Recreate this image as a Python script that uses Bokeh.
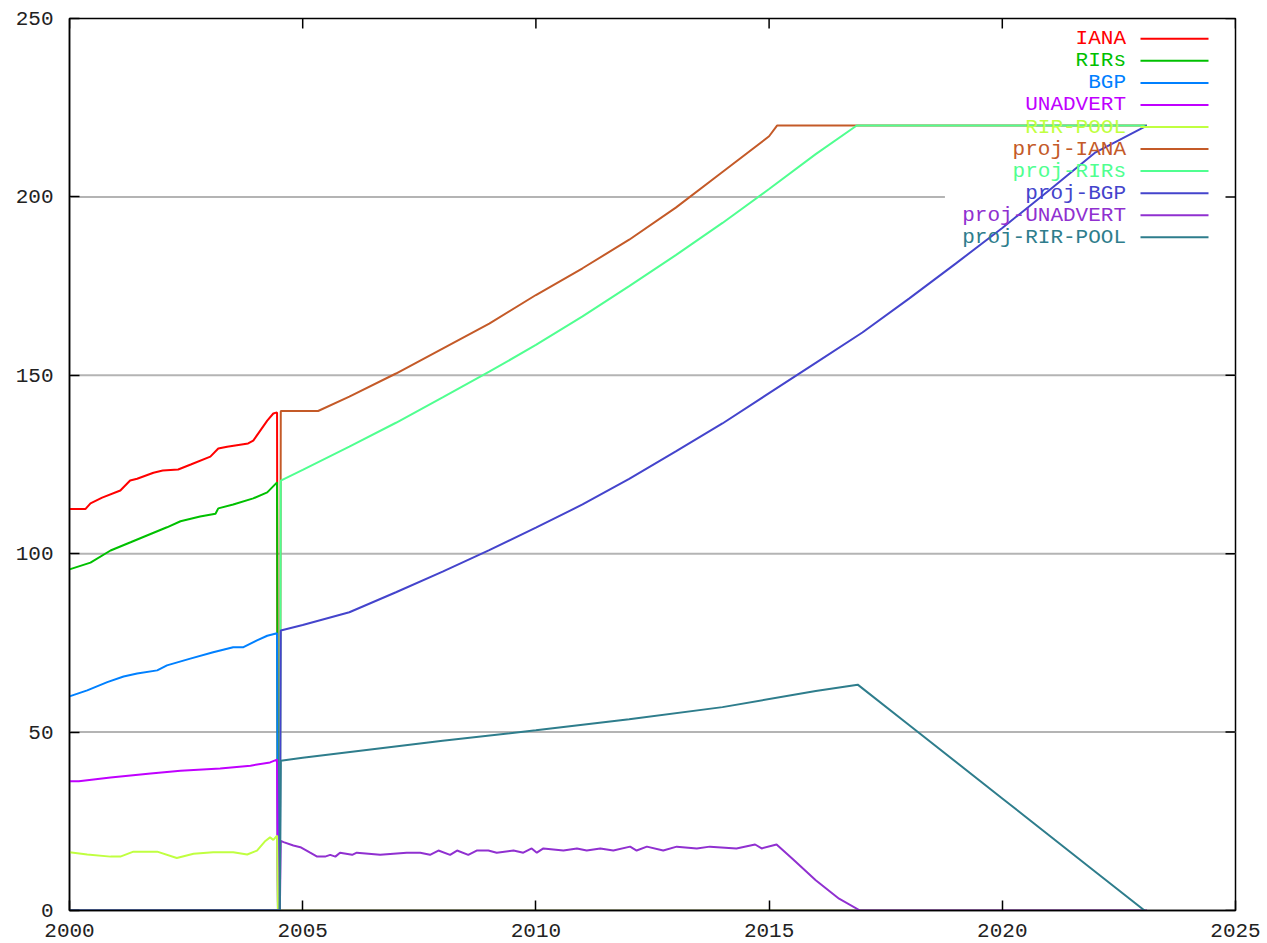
from bokeh.plotting import figure
from bokeh.models import Range1d, FixedTicker, ColumnDataSource
from bokeh.core.properties import value
from bokeh.embed import file_html
from bokeh.resources import INLINE

# ---------------- data ----------------
END = 2023.1
T_DROP = 2004.47
T_RISE = 2004.51

iana_x = [2000.0, 2000.34, 2000.45, 2000.7, 2001.09, 2001.3, 2001.45, 2001.8, 2002.0, 2002.33, 2002.6,
          2003.02, 2003.19, 2003.38, 2003.83, 2003.94, 2004.24, 2004.37, 2004.45]
iana_y = [112.5, 112.5, 114.1, 115.7, 117.7, 120.5, 121.0, 122.7, 123.3, 123.6, 125.0,
          127.2, 129.5, 130.0, 130.9, 131.7, 137.3, 139.3, 139.6]

rirs_x = [2000.0, 2000.45, 2000.88, 2001.31, 2001.66, 2002.09, 2002.38, 2002.8, 2003.13, 2003.19,
          2003.51, 2003.94, 2004.24, 2004.45]
rirs_y = [95.6, 97.5, 100.9, 103.2, 105.1, 107.4, 109.1, 110.4, 111.2, 112.7,
          113.8, 115.5, 117.2, 120.0]

bgp_x = [2000.0, 2000.38, 2000.81, 2001.16, 2001.45, 2001.88, 2002.09, 2002.59, 2003.08, 2003.51,
         2003.73, 2004.02, 2004.24, 2004.45]
bgp_y = [60.0, 61.7, 64.0, 65.6, 66.4, 67.3, 68.7, 70.6, 72.4, 73.8,
         73.8, 75.7, 77.0, 77.7]

unadv_x = [2000.0, 2000.2, 2000.88, 2001.74, 2002.38, 2003.23, 2003.88, 2004.3, 2004.45]
unadv_y = [36.2, 36.2, 37.3, 38.4, 39.2, 39.8, 40.6, 41.5, 42.3]

pool_x = [2000.0, 2000.38, 2000.88, 2001.09, 2001.37, 2001.88, 2002.3, 2002.66, 2003.08, 2003.51,
          2003.81, 2004.02, 2004.2, 2004.3, 2004.37, 2004.45]
pool_y = [16.3, 15.7, 15.1, 15.1, 16.5, 16.5, 14.7, 15.9, 16.3, 16.3,
          15.7, 16.8, 19.5, 20.5, 19.8, 21.0]

piana_x = [2004.53, 2005.33, 2006.0, 2007.0, 2008.0, 2009.0, 2010.0, 2011.0, 2012.0, 2013.0,
           2014.0, 2015.0, 2015.17, 2016.88, 2023.1]
piana_y = [140.0, 140.0, 144.0, 150.5, 157.5, 164.5, 172.5, 180.0, 188.0, 197.0,
           207.0, 217.0, 220.0, 220.0, 220.0]

prirs_x = [2004.53, 2005.0, 2006.0, 2007.0, 2008.0, 2009.0, 2010.0, 2011.0, 2012.0, 2013.0,
           2014.0, 2015.0, 2016.0, 2016.88, 2023.1]
prirs_y = [120.5, 123.5, 130.0, 136.7, 143.8, 151.0, 158.5, 166.5, 175.0, 183.7,
           192.7, 202.2, 212.0, 220.0, 220.0]

pbgp_x = [2004.53, 2005.0, 2006.0, 2007.0, 2008.0, 2009.0, 2010.0, 2011.0, 2012.0, 2013.0, 2014.0,
          2015.0, 2016.0, 2017.0, 2018.0, 2019.0, 2020.0, 2021.0, 2022.0, 2023.1]
pbgp_y = [78.5, 80.0, 83.6, 89.2, 95.0, 101.0, 107.3, 113.8, 121.0, 128.7, 136.5,
          145.0, 153.5, 162.0, 171.5, 181.3, 191.3, 201.8, 212.5, 220.0]

punadv_x = [2004.53, 2004.59, 2004.8, 2004.95, 2005.16, 2005.31, 2005.48, 2005.59, 2005.7, 2005.8,
            2006.06, 2006.16, 2006.66, 2007.23, 2007.52, 2007.73, 2007.91, 2008.16, 2008.31, 2008.55,
            2008.73, 2008.98, 2009.16, 2009.52, 2009.73, 2009.91, 2010.02, 2010.16, 2010.59, 2010.88,
            2011.09, 2011.38, 2011.66, 2012.02, 2012.16, 2012.38, 2012.73, 2013.02, 2013.45, 2013.73,
            2014.3, 2014.7, 2014.84, 2015.16, 2015.5, 2016.0, 2016.5, 2016.95, 2023.1]
punadv_y = [19.5, 19.15, 18.2, 17.75, 16.2, 15.1, 15.1, 15.6, 15.1, 16.2,
            15.6, 16.2, 15.6, 16.2, 16.2, 15.6, 16.8, 15.6, 16.8, 15.6,
            16.8, 16.8, 16.2, 16.8, 16.2, 17.4, 16.2, 17.4, 16.8, 17.4,
            16.8, 17.4, 16.8, 17.9, 16.8, 17.9, 16.8, 17.9, 17.4, 17.9,
            17.4, 18.5, 17.4, 18.5, 14.5, 8.5, 3.3, 0.0, 0.0]

ppool_x = [2004.53, 2005.0, 2008.0, 2010.0, 2012.0, 2014.0, 2016.0, 2016.9, 2018.0, 2020.0,
           2022.0, 2023.05]
ppool_y = [42.0, 42.8, 47.6, 50.5, 53.6, 57.0, 61.5, 63.3, 52.0, 31.4,
           10.8, 0.0]

labels = ["IANA", "RIRs", "BGP", "UNADVERT", "RIR-POOL",
          "proj-IANA", "proj-RIRs", "proj-BGP", "proj-UNADVERT", "proj-RIR-POOL"]
colors = ["#ff0000", "#00c000", "#0080ff", "#c000ff", "#c0ff40",
          "#c45a28", "#50ff90", "#4444cc", "#9030d0", "#2e7d8c"]

x_ticks = [2000, 2005, 2010, 2015, 2020, 2025]
y_ticks = [0, 50, 100, 150, 200, 250]
grid_vals = [50, 100, 150, 200]
grid_ends = [2025, 2025, 2025, 2018.77]


def hist(xs, ys):
    return xs + [T_DROP, END], ys + [0.0, 0.0]


def proj(xs, ys):
    return [2000.0, T_RISE] + xs, [0.0, 0.0] + ys


series = [hist(iana_x, iana_y), hist(rirs_x, rirs_y), hist(bgp_x, bgp_y),
          hist(unadv_x, unadv_y), hist(pool_x, pool_y),
          proj(piana_x, piana_y), proj(prirs_x, prirs_y), proj(pbgp_x, pbgp_y),
          proj(punadv_x, punadv_y), proj(ppool_x, ppool_y)]

# ---------------- figure ----------------
W, H = 1267, 943
FL, FT, FR, FB = 69, 18, 1235, 910  # frame edges inside figure

p = figure(width=W, height=H, output_backend="svg", toolbar_location=None,
           x_range=Range1d(2000, 2025), y_range=Range1d(0, 250),
           min_border_left=FL, min_border_top=FT,
           min_border_right=W - FR, min_border_bottom=H - FB)
p.xgrid.visible = False
p.ygrid.visible = False
p.outline_line_color = "#000000"
p.outline_line_width = 1.5
p.background_fill_color = "white"
p.border_fill_color = "white"

FONT = "Liberation Mono"
FS = "21px"
TXT = "#222222"

for ax in p.xaxis:
    ax.ticker = FixedTicker(ticks=x_ticks)
    ax.major_tick_in = 10
    ax.major_tick_out = 0
    ax.minor_tick_in = 0
    ax.minor_tick_out = 0
    ax.major_label_standoff = 13
    ax.major_label_text_font = FONT
    ax.major_label_text_font_size = FS
    ax.major_label_text_color = TXT
    ax.axis_line_color = "#000000"
    ax.axis_line_width = 1.5
    ax.major_tick_line_width = 1.5
for ax in p.yaxis:
    ax.ticker = FixedTicker(ticks=y_ticks)
    ax.major_tick_in = 10
    ax.major_tick_out = 0
    ax.minor_tick_in = 0
    ax.minor_tick_out = 0
    ax.major_label_standoff = 16
    ax.major_label_text_font = FONT
    ax.major_label_text_font_size = FS
    ax.major_label_text_color = TXT
    ax.axis_line_color = "#000000"
    ax.axis_line_width = 1.5
    ax.major_tick_line_width = 1.5

xpx = (FR - FL) / 25.0
ypx = (FB - FT) / 250.0


def fx(px):
    return 2000 + (px - FL) / xpx


def fy(py):
    return (FB - py) / ypx


# grid lines
p.segment(x0=[2000] * len(grid_vals), y0=grid_vals, x1=grid_ends, y1=grid_vals,
          line_color="#b4b4b4", line_width=2)

# mirrored ticks on the right and top edges
p.segment(x0=[2025 - 10 / xpx] * len(y_ticks), y0=y_ticks, x1=[2025] * len(y_ticks), y1=y_ticks,
          line_color="#000000", line_width=1.5)
p.segment(x0=x_ticks, y0=[250 - 10 / ypx] * len(x_ticks), x1=x_ticks, y1=[250] * len(x_ticks),
          line_color="#000000", line_width=1.5)

# series
for (xs, ys), c in zip(series, colors):
    p.line(xs, ys, line_color=c, line_width=2)

# legend (text right-aligned, line sample to the right)
row_py = [38.3 + 22.05 * i for i in range(len(labels))]
leg = ColumnDataSource(dict(
    tx=[fx(1125.5)] * len(labels),
    ty=[fy(r) for r in row_py],
    x0=[fx(1140)] * len(labels),
    x1=[fx(1208)] * len(labels),
    text=labels, color=colors))
p.text(x="tx", y="ty", text="text", text_color="color", source=leg,
       text_font=value(FONT), text_font_size=FS,
       text_align="right", text_baseline="middle")
p.segment(x0="x0", y0="ty", x1="x1", y1="ty", line_color="color", line_width=2, source=leg)

open("out.html", "w").write(file_html(p, INLINE))
